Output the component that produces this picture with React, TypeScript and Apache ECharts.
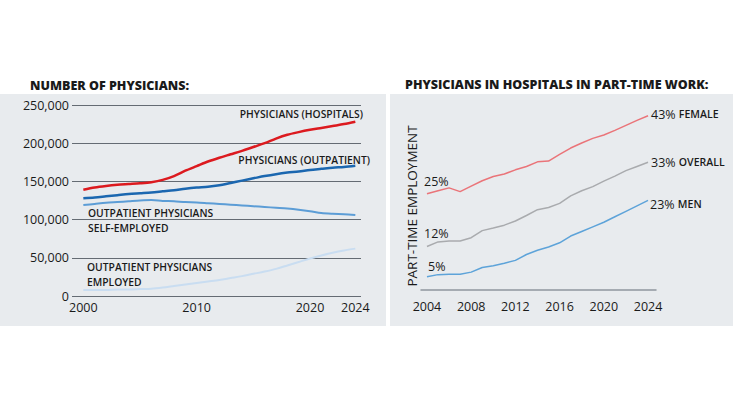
import React, { useEffect, useRef } from "react";
import * as echarts from "echarts";

// ---- Left chart: number of physicians ----
const physYears = [2000, 2001, 2002, 2003, 2004, 2005, 2006, 2007, 2008, 2009, 2010, 2011, 2012, 2013, 2014, 2015, 2016, 2017, 2018, 2019, 2020, 2021, 2022, 2023, 2024];
const hospitals = [139000, 142000, 144000, 145500, 146500, 147500, 149000, 152000, 157000, 164000, 170000, 176000, 181000, 185500, 190000, 195000, 200000, 206000, 211000, 214500, 217500, 220000, 222500, 225000, 228000];
const outpatient = [128000, 129000, 130500, 132000, 133500, 134500, 135500, 137000, 138500, 140500, 142000, 143000, 145000, 148000, 151000, 154000, 157000, 159500, 161500, 163000, 165000, 166500, 168000, 169000, 170500];
const selfEmployed = [119000, 120500, 122000, 123000, 124000, 125000, 125500, 124500, 124000, 123000, 122500, 121500, 120500, 119500, 118500, 117500, 116500, 115500, 114500, 113000, 111000, 108500, 107500, 107000, 106000];
const employed = [8000, 8000, 8000, 8500, 8500, 9000, 9500, 11000, 13000, 15000, 17000, 19000, 21000, 23500, 26000, 29000, 32000, 35500, 40000, 44500, 49000, 53000, 56500, 59500, 62000];
const physXTicks = [2000, 2010, 2020, 2024];

// ---- Right chart: part-time work in hospitals (%) ----
const ptYears = [2004, 2005, 2006, 2007, 2008, 2009, 2010, 2011, 2012, 2013, 2014, 2015, 2016, 2017, 2018, 2019, 2020, 2021, 2022, 2023, 2024];
const female = [24.8, 25.5, 26.2, 25.3, 26.6, 27.9, 28.9, 29.5, 30.5, 31.3, 32.4, 32.6, 34.2, 35.7, 36.9, 38.0, 38.8, 39.9, 41.1, 42.3, 43.4];
const overall = [12.2, 13.3, 13.5, 13.5, 14.3, 16.0, 16.6, 17.3, 18.3, 19.6, 21.0, 21.5, 22.5, 24.3, 25.5, 26.5, 27.8, 29.0, 30.3, 31.3, 32.3];
const men = [5.0, 5.5, 5.6, 5.6, 6.1, 7.2, 7.6, 8.2, 8.9, 10.3, 11.3, 12.1, 13.1, 14.7, 15.8, 16.9, 18.0, 19.3, 20.6, 21.9, 23.2];
const ptXTicks = [2004, 2008, 2012, 2016, 2020, 2024];

const FONT = "'Open Sans', 'Noto Sans', sans-serif";
const INK = "#1a1a1a";
const PANEL = "#e8ebee";

function pairs(xs: number[], ys: number[]) {
  return xs.map((x, i) => [x, ys[i]]);
}

export default function App() {
  const ref = useRef<HTMLDivElement>(null);
  useEffect(() => {
    document.body.style.margin = "0";
    const chart = echarts.init(ref.current!, null, { renderer: "svg" });
    const txt = (text: string, x: number, y: number, size: number, opts: any = {}) => ({
      type: "text",
      x,
      y,
      rotation: opts.rotation || 0,
      z: 10,
      style: {
        text,
        fontSize: size,
        fontFamily: FONT,
        fontWeight: opts.weight || 600,
        fill: INK,
        align: opts.align || "left",
        verticalAlign: "middle",
        rich: opts.rich,
      },
    });
    const endRich = {
      a: { fontSize: 12.5, fontFamily: FONT, fontWeight: 500, fill: INK },
      b: { fontSize: 10.5, fontFamily: FONT, fontWeight: 600, fill: INK },
    };
    chart.setOption({
      animation: false,
      backgroundColor: "#ffffff",
      grid: [
        { left: 72, right: 733 - 361, top: 105, bottom: 414 - 296 },
        { left: 421, right: 733 - 656, top: 100.66, bottom: 414 - 289.3 },
      ],
      xAxis: [
        {
          gridIndex: 0,
          type: "value",
          min: 1999,
          max: 2024.5,
          axisLine: { show: false },
          axisTick: { show: false },
          splitLine: { show: false },
          axisLabel: {
            customValues: physXTicks,
            color: INK,
            fontSize: 12.5,
            fontFamily: FONT,
            margin: 5,
            formatter: (v: number) => String(v),
          },
        },
        {
          gridIndex: 1,
          type: "value",
          min: 2003.46,
          max: 2024.72,
          axisLine: { show: true, onZero: false, lineStyle: { color: "#8f969e", width: 1.5 } },
          axisTick: { show: false },
          splitLine: { show: false },
          axisLabel: {
            customValues: ptXTicks,
            color: INK,
            fontSize: 12.5,
            fontFamily: FONT,
            margin: 11,
            formatter: (v: number) => String(v),
          },
        },
      ],
      yAxis: [
        {
          gridIndex: 0,
          type: "value",
          min: 0,
          max: 250000,
          interval: 50000,
          axisLine: { show: false },
          axisTick: { show: false },
          splitLine: { show: true, lineStyle: { color: "#646b73", width: 1 } },
          axisLabel: {
            color: INK,
            fontSize: 12.5,
            fontFamily: FONT,
            margin: 3,
            formatter: (v: number) => v.toLocaleString("en-US"),
          },
        },
        {
          gridIndex: 1,
          type: "value",
          min: 2,
          max: 47,
          show: false,
          splitLine: { show: false },
        },
      ],
      series: [
        { type: "line", xAxisIndex: 0, yAxisIndex: 0, data: pairs(physYears, employed), showSymbol: false, smooth: 0.3, lineStyle: { color: "#c9ddf1", width: 2 } },
        { type: "line", xAxisIndex: 0, yAxisIndex: 0, data: pairs(physYears, selfEmployed), showSymbol: false, smooth: 0.3, lineStyle: { color: "#5c9dd6", width: 2 } },
        { type: "line", xAxisIndex: 0, yAxisIndex: 0, data: pairs(physYears, outpatient), showSymbol: false, smooth: 0.3, lineStyle: { color: "#1b67b0", width: 2.5 } },
        { type: "line", xAxisIndex: 0, yAxisIndex: 0, data: pairs(physYears, hospitals), showSymbol: false, smooth: 0.3, lineStyle: { color: "#dc1a1f", width: 2.5 } },
        { type: "line", xAxisIndex: 1, yAxisIndex: 1, data: pairs(ptYears, female), showSymbol: false, lineStyle: { color: "#ea7479", width: 1.5 } },
        { type: "line", xAxisIndex: 1, yAxisIndex: 1, data: pairs(ptYears, overall), showSymbol: false, lineStyle: { color: "#a9abae", width: 1.5 } },
        { type: "line", xAxisIndex: 1, yAxisIndex: 1, data: pairs(ptYears, men), showSymbol: false, lineStyle: { color: "#5da3d9", width: 1.5 } },
      ],
      graphic: [
        { type: "rect", z: -100, shape: { x: 0, y: 94, width: 386, height: 232 }, style: { fill: PANEL } },
        { type: "rect", z: -100, shape: { x: 390, y: 94, width: 343, height: 232 }, style: { fill: PANEL } },
        txt("NUMBER OF PHYSICIANS:", 30, 85, 12.5, { weight: 800 }),
        txt("PHYSICIANS IN HOSPITALS IN PART-TIME WORK:", 405, 84, 12.5, { weight: 800 }),
        txt("PHYSICIANS (HOSPITALS)", 363, 114, 10.3, { align: "right" }),
        txt("PHYSICIANS (OUTPATIENT)", 370, 160, 10.3, { align: "right" }),
        txt("OUTPATIENT PHYSICIANS", 88, 213, 10.3),
        txt("SELF-EMPLOYED", 88, 228, 10.3),
        txt("OUTPATIENT PHYSICIANS", 87, 267, 10.3),
        txt("EMPLOYED", 87, 282, 10.3),
        txt("PART-TIME EMPLOYMENT", 412, 206, 13.5, { rotation: Math.PI / 2, align: "center", weight: 500 }),
        txt("25%", 424, 181, 12.5, { weight: 500 }),
        txt("12%", 424, 233, 12.5, { weight: 500 }),
        txt("5%", 428, 266, 12.5, { weight: 500 }),
        txt("{a|43%} {b|FEMALE}", 651, 114, 12.5, { rich: endRich }),
        txt("{a|33%} {b|OVERALL}", 651, 162, 12.5, { rich: endRich }),
        txt("{a|23%} {b|MEN}", 650, 204, 12.5, { rich: endRich }),
      ],
    });
    return () => chart.dispose();
  }, []);
  return <div ref={ref} style={{ position: "absolute", left: 0, top: 0, width: 733, height: 414 }} />;
}
